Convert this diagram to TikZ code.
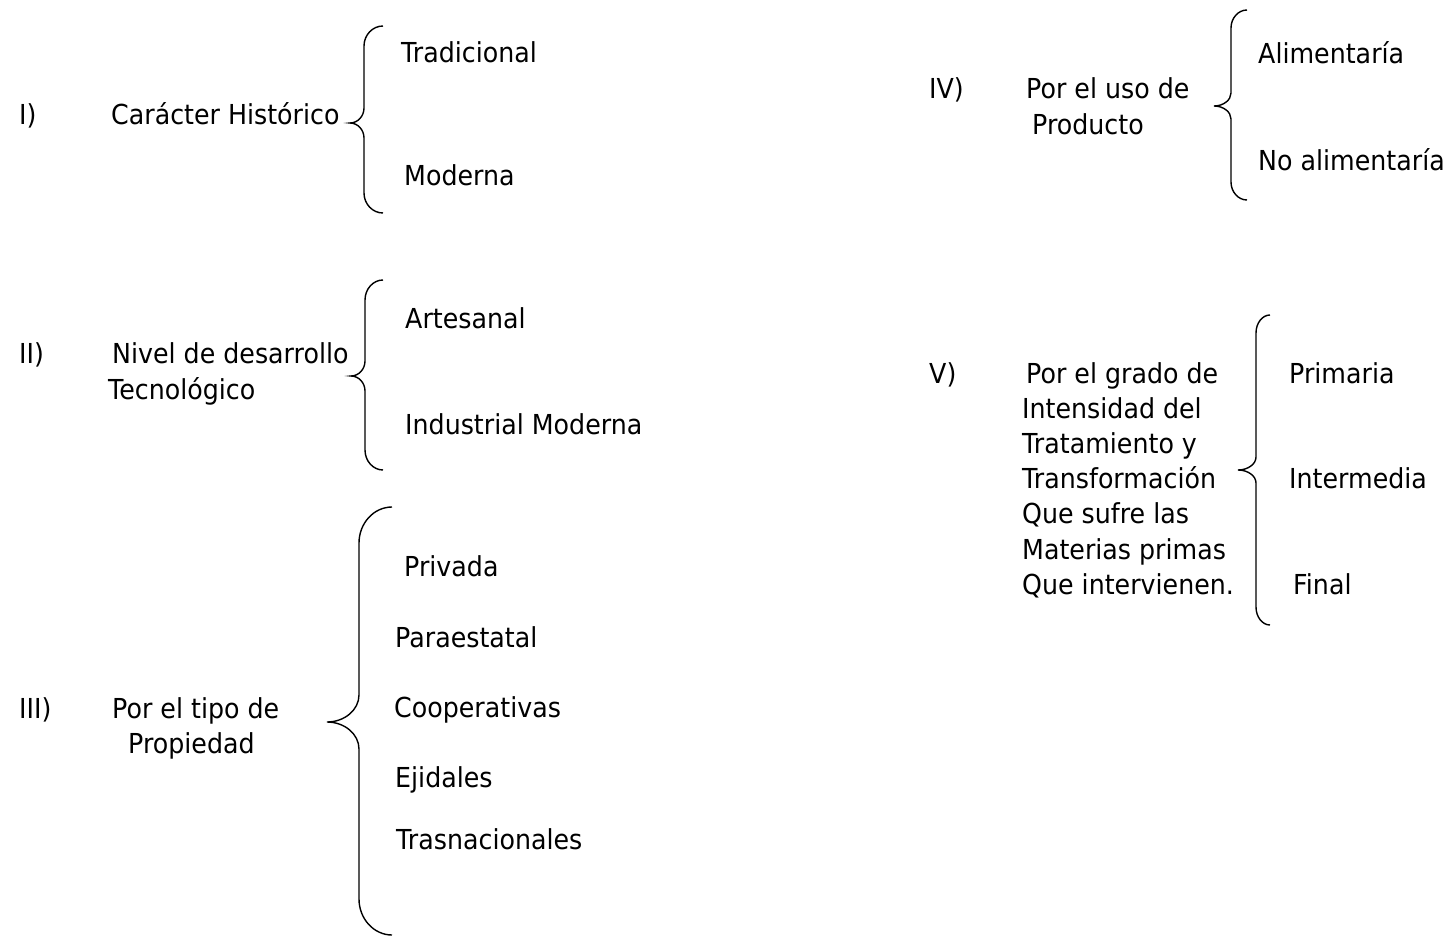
\documentclass[tikz,border=0pt]{standalone}
\usepackage{fontspec}
\setmainfont{DejaVu Sans}[FakeStretch=0.92]
% #1 end x, #2 vertical x, #3 tip x, #4 top y, #5 tip y, #6 bottom y, #7 end radius, #8 tip radius
\newcommand\cbrace[8]{%
  \draw[bracestyle] (#1,#4) .. controls (#1-0.55*#1+0.55*#2,#4) and (#2,#4+0.45*#7) .. (#2,#4+#7)
    -- (#2,#5-#8)
    .. controls (#2,#5-0.45*#8) and (#3+0.55*#2-0.55*#3,#5) .. (#3,#5)
    .. controls (#3+0.55*#2-0.55*#3,#5) and (#2,#5+0.45*#8) .. (#2,#5+#8)
    -- (#2,#6-#7)
    .. controls (#2,#6-0.45*#7) and (#1-0.55*#1+0.55*#2,#6) .. (#1,#6);}
\begin{document}
\begin{tikzpicture}[x=1pt,y=-1pt,
  txt/.style={anchor=base west, inner sep=0pt, font=\fontsize{27.5}{35}\selectfont},
  bracestyle/.style={draw=black, line width=1.4pt}]
\useasboundingbox (0,0) rectangle (1454,936);
% Group I
\node[txt] (n1) at (19,125) {I)};
\node[txt] (t1) at (111,125) {Carácter Histórico};
\cbrace{383}{364}{350}{26}{123}{213}{20}{15}
\node[txt] (a1) at (401,63) {Tradicional};
\node[txt] (b1) at (404,186) {Moderna};
% Group II
\node[txt] (n2) at (19,363) {II)};
\node[txt] (t2a) at (112,363) {Nivel de desarrollo};
\node[txt] (t2b) at (108,399) {Tecnológico};
\cbrace{383}{365}{351}{280}{376}{470}{20}{15}
\node[txt] (a2) at (405,328) {Artesanal};
\node[txt] (b2) at (405,434) {Industrial Moderna};
% Group III
\node[txt] (n3) at (19,718) {III)};
\node[txt] (t3a) at (112,718) {Por el tipo de};
\node[txt] (t3b) at (128,753) {Propiedad};
\cbrace{392}{359}{327}{507}{722}{935}{36}{27}
\node[txt] (a3) at (404,576) {Privada};
\node[txt] (b3) at (395,647) {Paraestatal};
\node[txt] (c3) at (394,717) {Cooperativas};
\node[txt] (d3) at (395,787) {Ejidales};
\node[txt] (e3) at (396,849) {Trasnacionales};
% Group IV
\node[txt] (n4) at (929,99) {IV)};
\node[txt] (t4a) at (1026,99) {Por el uso de};
\node[txt] (t4b) at (1032,135) {Producto};
\cbrace{1247}{1231}{1214}{10}{106}{200}{18}{13}
\node[txt] (a4) at (1258,64) {Alimentaría};
\node[txt] (b4) at (1258,171) {No alimentaría};
% Group V
\node[txt] (n5) at (929,383) {V)};
\node[txt] (t5a) at (1026,383) {Por el grado de};
\node[txt] (t5b) at (1022,418) {Intensidad del};
\node[txt] (t5c) at (1022,453) {Tratamiento y};
\node[txt] (t5d) at (1022,488) {Transformación};
\node[txt] (t5e) at (1022,523) {Que sufre las};
\node[txt] (t5f) at (1022,559) {Materias primas};
\node[txt] (t5g) at (1022,594) {Que intervienen.};
\cbrace{1270}{1256}{1238}{315}{470}{625}{18}{13}
\node[txt] (a5) at (1289,383) {Primaria};
\node[txt] (b5) at (1289,488) {Intermedia};
\node[txt] (c5) at (1293,594) {Final};
\end{tikzpicture}
\end{document}
